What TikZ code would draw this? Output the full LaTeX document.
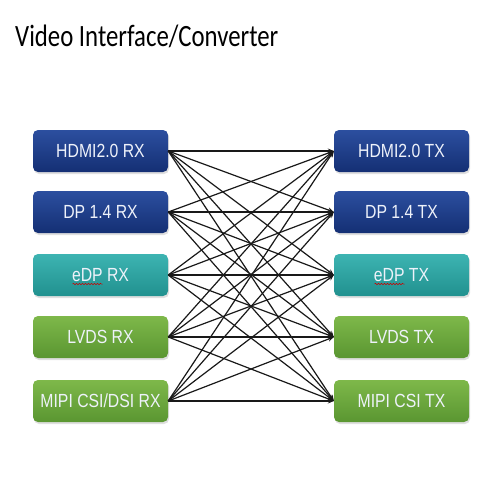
\documentclass[tikz,border=0pt]{standalone}
\usepackage{fontspec}
\setmainfont{Liberation Sans}
\newfontfamily\titlefont[FakeStretch=0.80]{Carlito}
\newfontfamily\boxfont[FakeStretch=0.83]{Liberation Sans}
\usetikzlibrary{arrows.meta,shadows,decorations.pathmorphing}
\definecolor{bluetop}{HTML}{2C4F9F}
\definecolor{bluebot}{HTML}{142F74}
\definecolor{tealtop}{HTML}{3DB4B2}
\definecolor{tealbot}{HTML}{21918F}
\definecolor{greentop}{HTML}{7EB84A}
\definecolor{greenbot}{HTML}{5A9631}
\definecolor{boxtext}{HTML}{EEF2FA}
\begin{document}
\begin{tikzpicture}[x=1pt,y=-1pt,
  box/.style={rectangle,rounded corners=5pt,minimum width=135pt,minimum height=42pt,
    inner sep=0pt,font=\boxfont\fontsize{19}{21}\selectfont,text=boxtext,
    drop shadow={opacity=0.25,shadow xshift=1pt,shadow yshift=-2pt}},
  bluebox/.style={box,top color=bluetop,bottom color=bluebot},
  tealbox/.style={box,top color=tealtop,bottom color=tealbot},
  greenbox/.style={box,top color=greentop,bottom color=greenbot},
  conn/.style={draw=black!90,line width=1.2pt,-{Stealth[length=6pt,width=5pt]}},
  squiggle/.style={draw=red!80!black,line width=0.5pt,decorate,decoration={snake,amplitude=0.7pt,segment length=3pt}}]
\useasboundingbox (0,0) rectangle (500,500);
\fill[white] (0,0) rectangle (500,500);
\node[anchor=base west,inner sep=0pt,font=\titlefont\fontsize{31}{34}\selectfont] (title) at (15,47) {Video Interface/Converter};

\node[bluebox]  (L1) at (100.5,151) {HDMI2.0 RX};
\node[bluebox]  (L2) at (100.5,212) {DP 1.4 RX};
\node[tealbox]  (L3) at (100.5,275) {eDP RX};
\node[greenbox] (L4) at (100.5,337) {LVDS RX};
\node[greenbox] (L5) at (100.5,401) {MIPI CSI/DSI RX};

\node[bluebox]  (R1) at (401.5,151) {HDMI2.0 TX};
\node[bluebox]  (R2) at (401.5,212) {DP 1.4 TX};
\node[tealbox]  (R3) at (401.5,275) {eDP TX};
\node[greenbox] (R4) at (401.5,337) {LVDS TX};
\node[greenbox] (R5) at (401.5,401) {MIPI CSI TX};

\draw[squiggle] ([xshift=-28pt,yshift=-9pt]L3.center) -- ([xshift=2pt,yshift=-9pt]L3.center);
\draw[squiggle] ([xshift=-27pt,yshift=-9pt]R3.center) -- ([xshift=3pt,yshift=-9pt]R3.center);

\foreach \i in {1,...,5}
  \foreach \j in {1,...,5}
    \draw[conn] (L\i.east) -- (R\j.west);
\end{tikzpicture}
\end{document}
